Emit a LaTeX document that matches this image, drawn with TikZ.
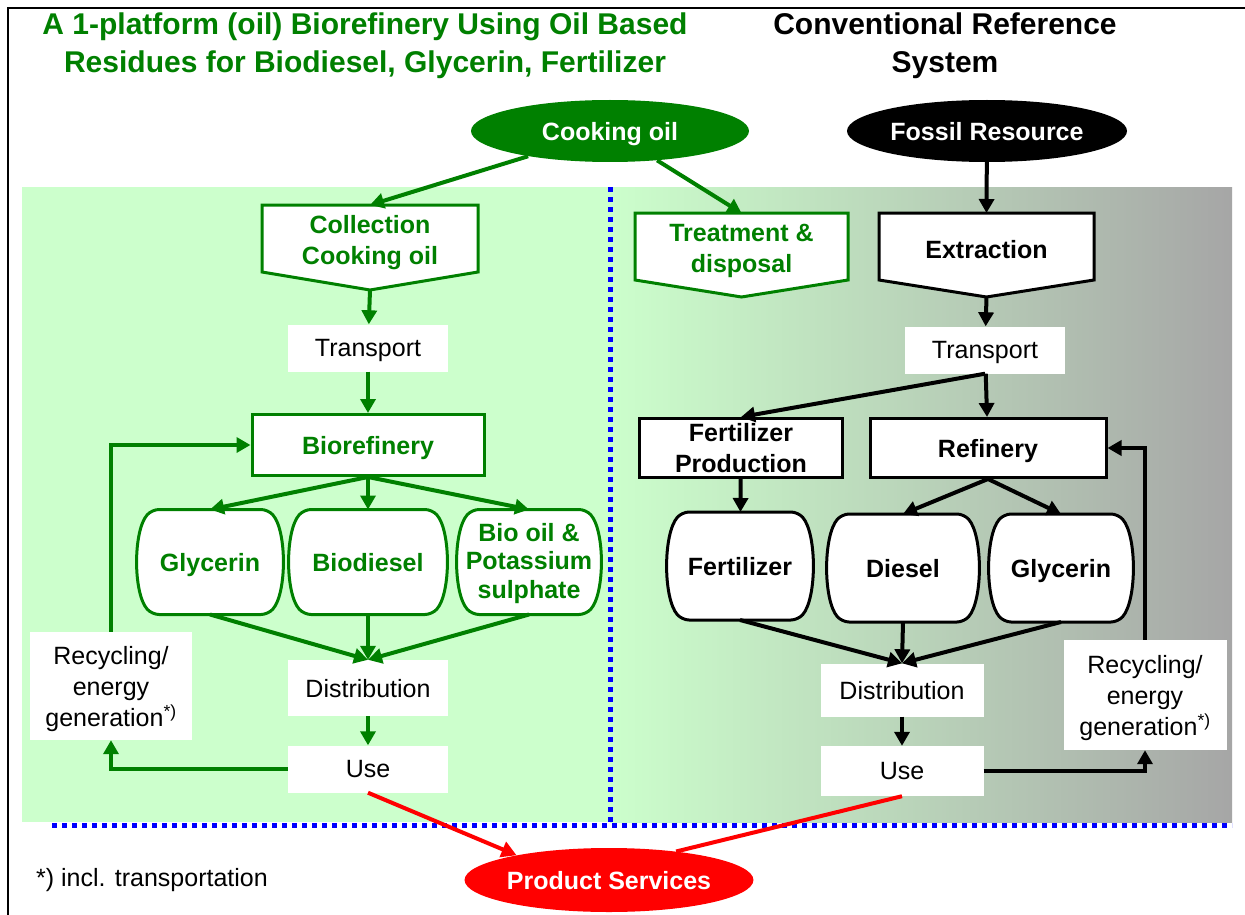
\documentclass[tikz,border=0pt]{standalone}
\usepackage{fontspec}
\setmainfont{Liberation Sans}
\usetikzlibrary{arrows.meta,shapes.geometric,calc}
\definecolor{oilgreen}{RGB}{0,128,0}
\definecolor{bggreen}{RGB}{204,255,204}
\definecolor{bggray}{RGB}{166,166,166}
\definecolor{dotblue}{RGB}{0,0,255}
\definecolor{servred}{RGB}{255,0,0}
\newcommand{\drumshape}[2]{\draw[#2, line width=3pt, fill=white, rounded corners=7pt]
    (#1.north) -- ([xshift=-14pt]#1.north east)
    .. controls ($(#1.north east)!0.2!(#1.south east)+(5,0)$) and ($(#1.north east)!0.8!(#1.south east)+(5,0)$) .. ([xshift=-14pt]#1.south east)
    -- ([xshift=14pt]#1.south west)
    .. controls ($(#1.south west)!0.2!(#1.north west)+(-5,0)$) and ($(#1.south west)!0.8!(#1.north west)+(-5,0)$) .. ([xshift=14pt]#1.north west)
    -- cycle;}
\newcommand{\pointshape}[3]{\draw[#2, line width=3pt, fill=white]
    (#1.north west) -- (#1.north east) -- (#1.south east) -- (#3) -- (#1.south west) -- cycle;}
\begin{document}
\begin{tikzpicture}[x=1pt,y=-1pt,
    txt/.style={font=\fontsize{25}{31}\selectfont, align=center, inner sep=0pt, text depth=0pt},
    btxt/.style={txt, font=\fontsize{25}{31}\selectfont\bfseries},
    ttl/.style={txt, font=\fontsize{30}{38}\selectfont\bfseries},
    frame/.style={inner sep=0pt, outer sep=0pt},
    whitebox/.style={txt, fill=white, minimum width=160, minimum height=47},
    gbox/.style={btxt, draw=oilgreen, line width=3pt, fill=white, text=oilgreen},
    kbox/.style={btxt, draw=black, line width=3pt, fill=white},
    blob/.style={btxt, ellipse, text=white, inner sep=0pt, minimum width=280, minimum height=62},
    garrow/.style={draw=oilgreen, line width=4pt, -{Triangle[length=14pt,width=15pt]}},
    karrow/.style={draw=black, line width=4pt, -{Triangle[length=14pt,width=15pt]}},
    rarrow/.style={draw=servred, line width=4pt, -{Triangle[length=15pt,width=16pt]}},
    dotline/.style={draw=dotblue, line width=5pt, dash pattern=on 5pt off 5pt}]
\useasboundingbox (0,0) rectangle (1245,915);
\clip (0,0) rectangle (1245,915);
\fill[white] (0,0) rectangle (1245,915);
\draw[line width=2.5pt] (8,8) rectangle (1260,930);
\fill[bggreen] (22,187) rectangle (610,822);
\shade[left color=bggreen, right color=bggray] (610,187) rectangle (1232,822);
\draw[dotline] (610,187) -- (610,822);
\draw[dotline] (52,825) -- (1232,825);

\node (titleL) [ttl, text=oilgreen] at (365,43) {A 1-platform (oil) Biorefinery Using Oil Based\\Residues for Biodiesel, Glycerin, Fertilizer};
\node (titleR) [ttl] at (945,43) {Conventional Reference\\System};

\node (cook) [blob, fill=oilgreen, minimum width=278] at (610,131) {Cooking oil};
\node (fossil) [blob, fill=black] at (987,131) {Fossil Resource};
\node (prod) [blob, fill=servred, minimum width=282, minimum height=64] at (609,880) {Product Services};

\node (coll) [frame, minimum width=216, minimum height=67] at (370,238.5) {};
\coordinate (collpt) at (370,290);
\pointshape{coll}{oilgreen}{collpt}
\node (collT) [btxt, text=oilgreen] at (370,239.5) {Collection\\Cooking oil};

\node (treat) [frame, minimum width=213, minimum height=67] at (741.5,246.5) {};
\coordinate (treatpt) at (741.5,297);
\pointshape{treat}{oilgreen}{treatpt}
\node (treatT) [btxt, text=oilgreen] at (741.5,248.5) {Treatment \&\\disposal};

\node (extr) [frame, minimum width=215, minimum height=67] at (986.5,246.5) {};
\coordinate (extrpt) at (986.5,297);
\pointshape{extr}{black}{extrpt}
\node (extrT) [btxt] at (986.5,249) {Extraction};

\node (transL) [whitebox] at (368,348) {Transport};
\node (bioref) [gbox, minimum width=232, minimum height=61] at (368,445) {Biorefinery};

\node (glyL) [frame, minimum width=144, minimum height=105] at (210,562) {};
\drumshape{glyL}{oilgreen}
\node (glyLT) [btxt, text=oilgreen] at (glyL) {Glycerin};
\node (biod) [frame, minimum width=156, minimum height=105] at (368,562) {};
\drumshape{biod}{oilgreen}
\node (biodT) [btxt, text=oilgreen] at (biod) {Biodiesel};
\node (biooil) [frame, minimum width=142, minimum height=105] at (529,562) {};
\drumshape{biooil}{oilgreen}
\node (biooilT) [btxt, text=oilgreen, font=\fontsize{25}{28.5}\selectfont\bfseries] at (529,560.5) {Bio oil \&\\Potassium\\sulphate};

\node (distL) [whitebox, minimum height=56] at (368,688) {Distribution};
\node (useL) [whitebox] at (368,769) {Use};
\node (recL) [whitebox, minimum width=162, minimum height=108] at (111,686) {Recycling/\\energy\\generation\textsuperscript{*)}};

\node (transR) [whitebox] at (985,350) {Transport};
\node (fertp) [kbox, minimum width=203, minimum height=59] at (741,448) {Fertilizer\\Production};
\node (refin) [kbox, minimum width=236, minimum height=59] at (988,448) {Refinery};

\node (fert) [frame, minimum width=144, minimum height=108] at (740,566) {};
\drumshape{fert}{black}
\node (fertT) [btxt] at (fert) {Fertilizer};
\node (diesel) [frame, minimum width=150, minimum height=108] at (903,568) {};
\drumshape{diesel}{black}
\node (dieselT) [btxt] at (diesel) {Diesel};
\node (glyR) [frame, minimum width=142, minimum height=108] at (1061,568) {};
\drumshape{glyR}{black}
\node (glyRT) [btxt] at (glyR) {Glycerin};

\node (distR) [whitebox, minimum width=163, minimum height=53] at (902,690) {Distribution};
\node (useR) [whitebox, minimum width=163, minimum height=50] at (902,771) {Use};
\node (recR) [whitebox, minimum width=163, minimum height=110] at (1145,695) {Recycling/\\energy\\generation\textsuperscript{*)}};

\node (note) [txt, anchor=west] at (36,877) {*) incl. transportation};

\draw[garrow] (cook) -- (coll.north);
\draw[garrow] (cook) -- (treat.north);
\draw[garrow] (collpt) -- (transL);
\draw[garrow] (transL) -- (bioref);
\draw[garrow] (bioref.south) -- (glyL.north);
\draw[garrow] (bioref.south) -- (biod.north);
\draw[garrow] (bioref.south) -- (biooil.north);
\draw[garrow] (glyL.south) -- (distL.north);
\draw[garrow] (biod.south) -- (distL.north);
\draw[garrow] (biooil.south) -- (distL.north);
\draw[garrow] (distL) -- (useL);
\draw[garrow] (useL.west) -| (recL.south);
\draw[garrow] (recL.north) |- (bioref.west);

\draw[karrow] (fossil) -- (extr.north);
\draw[karrow] (extrpt) -- (transR);
\draw[karrow] (transR.south) -- (fertp.north);
\draw[karrow] (transR) -- (refin);
\draw[karrow] (fertp) -- (fert);
\draw[karrow] (refin.south) -- (diesel.north);
\draw[karrow] (refin.south) -- (glyR.north);
\draw[karrow] (fert.south) -- (distR.north);
\draw[karrow] (diesel.south) -- (distR.north);
\draw[karrow] (glyR.south) -- (distR.north);
\draw[karrow] (distR) -- (useR);
\draw[karrow] (useR.east) -| (recR.south);
\draw[karrow] (recR.north) |- (refin.east);

\draw[rarrow] (useL.south) -- (prod.165);
\draw[servred, line width=4pt] (useR.south) -- (prod.23);
\end{tikzpicture}
\end{document}
